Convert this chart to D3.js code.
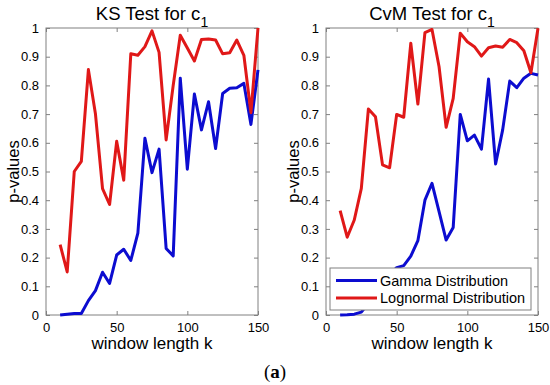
<!DOCTYPE html>
<html><head><meta charset="utf-8">
<script src="https://cdn.jsdelivr.net/npm/d3@7"></script>
<style>body{margin:0;background:#fff}svg{display:block}</style>
</head><body><svg id="c" width="550" height="385"></svg>
<script>
const kValues = [10,15,20,25,30,35,40,45,50,55,60,65,70,75,80,85,90,95,100,105,110,115,120,125,130,135,140,145,150];
const ksGamma = [0,0.003,0.005,0.005,0.05,0.085,0.149,0.11,0.209,0.229,0.19,0.285,0.616,0.496,0.578,0.232,0.206,0.825,0.508,0.77,0.645,0.743,0.58,0.772,0.79,0.792,0.807,0.664,0.854];
const ksLognormal = [0.245,0.15,0.50,0.535,0.855,0.70,0.44,0.385,0.605,0.47,0.91,0.905,0.935,0.99,0.915,0.61,0.80,0.975,0.93,0.885,0.96,0.962,0.958,0.91,0.914,0.958,0.905,0.705,1.0];
const cvmGamma = [0,0.001,0.003,0.01,0.04,0.08,0.11,0.14,0.165,0.172,0.205,0.259,0.40,0.459,0.36,0.261,0.305,0.699,0.607,0.627,0.578,0.822,0.526,0.645,0.815,0.792,0.825,0.842,0.836];
const cvmLognormal = [0.364,0.271,0.331,0.441,0.718,0.691,0.523,0.513,0.699,0.689,0.947,0.735,0.984,0.995,0.865,0.654,0.755,0.982,0.952,0.935,0.902,0.931,0.937,0.933,0.96,0.949,0.921,0.844,0.999];
const xTicks = [0,50,100,150];
const yTicks = [0,0.1,0.2,0.3,0.4,0.5,0.6,0.7,0.8,0.9,1];
const yTickLabels = ["0","0.1","0.2","0.3","0.4","0.5","0.6","0.7","0.8","0.9","1"];
const seriesNames = ["Gamma Distribution","Lognormal Distribution"];
const panelTitles = ["KS Test for c","CvM Test for c"];
const titleSub = "1";
const xLabel = "window length k";
const yLabel = "p-values";
const caption = "a";

const colors = ["#0c0cd0","#e01818"];
const axisColor = "#808080";
const font = "'Liberation Sans', Arial, Helvetica, sans-serif";

const svg = d3.select("#c");
const plotTop = 28, plotBottom = 315, plotWidth = 212;
const panels = [
  {left: 46, title: panelTitles[0], series: [ksGamma, ksLognormal], legend: false},
  {left: 326, title: panelTitles[1], series: [cvmGamma, cvmLognormal], legend: true}
];

panels.forEach(p => {
  const x = d3.scaleLinear().domain([0,150]).range([p.left, p.left + plotWidth]);
  const y = d3.scaleLinear().domain([0,1]).range([plotBottom, plotTop]);
  const g = svg.append("g");

  const fmtY = d => yTickLabels[yTicks.indexOf(d)];
  const axL = g.append("g").attr("transform",`translate(${p.left},0)`)
    .call(d3.axisLeft(y).tickValues(yTicks).tickSize(-4).tickPadding(7).tickFormat(fmtY));
  const axR = g.append("g").attr("transform",`translate(${p.left+plotWidth},0)`)
    .call(d3.axisRight(y).tickValues(yTicks).tickSize(-4).tickFormat(""));
  const axB = g.append("g").attr("transform",`translate(0,${plotBottom})`)
    .call(d3.axisBottom(x).tickValues(xTicks).tickSize(-4).tickPadding(8).tickFormat(d3.format("d")));
  const axT = g.append("g").attr("transform",`translate(0,${plotTop})`)
    .call(d3.axisTop(x).tickValues(xTicks).tickSize(-4).tickFormat(""));
  [axL,axR,axB,axT].forEach(a => {
    a.select(".domain").remove();
    a.selectAll("line").attr("stroke",axisColor);
    a.selectAll("text").attr("fill","#000").style("font-family",font).style("font-size","13px");
  });

  g.append("rect").attr("x",p.left).attr("y",plotTop).attr("width",plotWidth).attr("height",plotBottom-plotTop)
    .attr("fill","none").attr("stroke",axisColor).attr("stroke-width",1);

  const line = d3.line().x((d,i) => x(kValues[i])).y(d => y(d));
  p.series.forEach((s,si) => {
    g.append("path").datum(s).attr("d",line).attr("fill","none")
      .attr("stroke",colors[si]).attr("stroke-width",3).attr("stroke-linejoin","round");
  });

  const t = g.append("text").attr("x",p.left+plotWidth/2).attr("y",20).attr("text-anchor","middle")
    .style("font-family",font).style("font-size","18.5px").attr("fill","#000");
  t.append("tspan").text(p.title);
  t.append("tspan").attr("dy",7).style("font-size","14px").text(titleSub);

  g.append("text").attr("x",p.left+plotWidth/2).attr("y",349).attr("text-anchor","middle")
    .style("font-family",font).style("font-size","17px").text(xLabel);
  g.append("text").attr("transform",`translate(${p.left-27},${(plotTop+plotBottom)/2}) rotate(-90)`)
    .attr("text-anchor","middle").style("font-family",font).style("font-size","16.5px").text(yLabel);

  if (p.legend) {
    const lx = 330, ly = 268, lw = 201, lh = 42;
    const lg = g.append("g");
    lg.append("rect").attr("x",lx).attr("y",ly).attr("width",lw).attr("height",lh)
      .attr("fill","#fff").attr("stroke",axisColor);
    seriesNames.forEach((n,i) => {
      const cy = ly + 12.5 + i*17.5;
      lg.append("line").attr("x1",lx+6).attr("x2",lx+47).attr("y1",cy).attr("y2",cy)
        .attr("stroke",colors[i]).attr("stroke-width",3);
      lg.append("text").attr("x",lx+50).attr("y",cy).attr("dy","0.36em")
        .style("font-family",font).style("font-size","14.5px").text(n);
    });
  }
});

const cap = svg.append("text").attr("x",275).attr("y",378).attr("text-anchor","middle")
  .style("font-family","'Liberation Serif','DejaVu Serif',serif").style("font-size","19px");
cap.append("tspan").text("(");
cap.append("tspan").style("font-weight","bold").text(caption);
cap.append("tspan").text(")");
</script></body></html>
